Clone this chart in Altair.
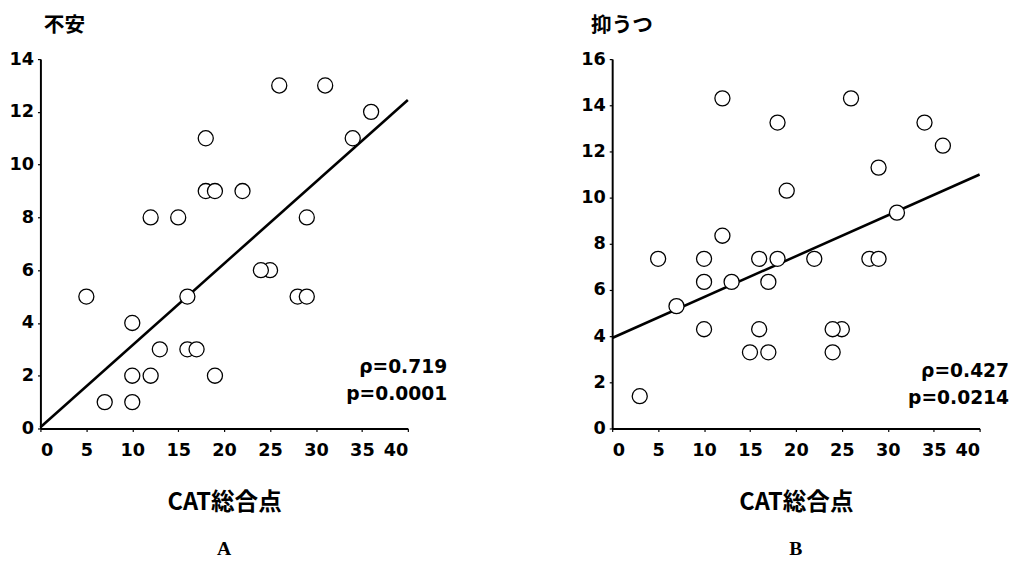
import altair as alt
import pandas as pd

# Panel A: 不安
xA = [5, 7, 10, 10, 10, 12, 12, 13, 15, 16, 16, 17, 18, 18, 19, 19, 22, 25, 24, 26, 28, 29, 29, 31, 34, 36]
yA = [5, 1, 4, 2, 1, 8, 2, 3, 8, 5, 3, 3, 11, 9, 9, 2, 9, 6, 6, 13, 5, 5, 8, 13, 11, 12]
lineA_x = [0, 40]
lineA_y = [0.05, 12.45]
statsA = ["ρ=0.719", "p=0.0001"]

# Panel B: 抑うつ
xB = [3, 5, 7, 10, 10, 10, 12, 12, 13, 15, 16, 16, 17, 17, 18, 18, 19, 22, 25, 24, 24, 26, 28, 29, 29, 31, 34, 36]
yB = [1.4, 7.35, 5.3, 7.35, 6.35, 4.3, 14.3, 8.35, 6.35, 3.3, 7.35, 4.3, 6.35, 3.3, 13.25, 7.35, 10.3,
      7.35, 4.3, 4.3, 3.3, 14.3, 7.35, 7.35, 11.3, 9.35, 13.25, 12.25]
lineB_x = [0, 40]
lineB_y = [3.92, 11.0]
statsB = ["ρ=0.427", "p=0.0214"]

x_ticks = [0, 5, 10, 15, 20, 25, 30, 35, 40]
yA_ticks = [0, 2, 4, 6, 8, 10, 12, 14]
yB_ticks = [0, 2, 4, 6, 8, 10, 12, 14, 16]

W, H = 374, 376
LABEL_FONT = "DejaVu Sans"
CJK_FONT = "Noto Sans CJK JP"


def panel(xs, ys, lx, ly, stats, ymax, yticks, ytitle, title_dx, letter, text_dx, text_y):
    pts = pd.DataFrame({"x": xs, "y": ys})
    ln = pd.DataFrame({"x": lx, "y": ly})
    st = pd.DataFrame({"t": [stats]})

    xscale = alt.Scale(domain=[0, 40], nice=False, zero=False)
    yscale = alt.Scale(domain=[0, ymax], nice=False, zero=False)
    xaxis = alt.Axis(values=x_ticks, title="CAT総合点", titleFont=CJK_FONT, titleFontSize=24,
                     titleFontWeight="bold", titlePadding=32, labelPadding=10)
    yaxis = alt.Axis(values=yticks, title=ytitle, titleAngle=0, titleAlign="left",
                     titleBaseline="alphabetic", titleX=title_dx, titleY=-28,
                     titleFont=CJK_FONT, titleFontSize=21, titleFontWeight="bold", labelPadding=4)

    line = alt.Chart(ln).mark_line(color="black", strokeWidth=2.6).encode(
        x=alt.X("x:Q", scale=xscale, axis=xaxis),
        y=alt.Y("y:Q", scale=yscale, axis=yaxis),
    )
    circles = alt.Chart(pts).mark_point(shape="circle", filled=True, fill="white", stroke="black",
                                        strokeWidth=1.3, size=235, opacity=1).encode(
        x=alt.X("x:Q", scale=xscale),
        y=alt.Y("y:Q", scale=yscale),
    )
    text = alt.Chart(st).mark_text(align="right", baseline="alphabetic", font=LABEL_FONT,
                                   fontWeight="bold", fontSize=19, lineHeight=27,
                                   color="black").encode(
        x=alt.value(W + text_dx), y=alt.value(text_y), text="t")

    return alt.layer(line, circles, text).properties(
        width=W, height=H,
        title=alt.TitleParams(letter, orient="bottom", anchor="middle", frame="group",
                              font="Liberation Serif", fontSize=20, fontWeight="bold", offset=26),
    )


left = panel(xA, yA, lineA_x, lineA_y, statsA, 14, yA_ticks, "不安", 3, "A", 40, 320)
right = panel(xB, yB, lineB_x, lineB_y, statsB, 16, yB_ticks, "抑うつ", -22, "B", 30, 324)

chart = alt.hconcat(left, right, spacing=208, bounds="flush").properties(
    padding={"left": 0, "top": 2, "right": 5, "bottom": 5}
).configure_view(
    stroke=None
).configure_axis(
    grid=False, domainColor="black", domainWidth=2, tickColor="black", tickSize=3, tickWidth=1.2,
    labelFont=LABEL_FONT, labelFontWeight="bold", labelFontSize=18, labelColor="black",
    titleColor="black",
).configure_title(color="black")

chart.save("out.html", embed_options={"renderer": "svg", "actions": False})
